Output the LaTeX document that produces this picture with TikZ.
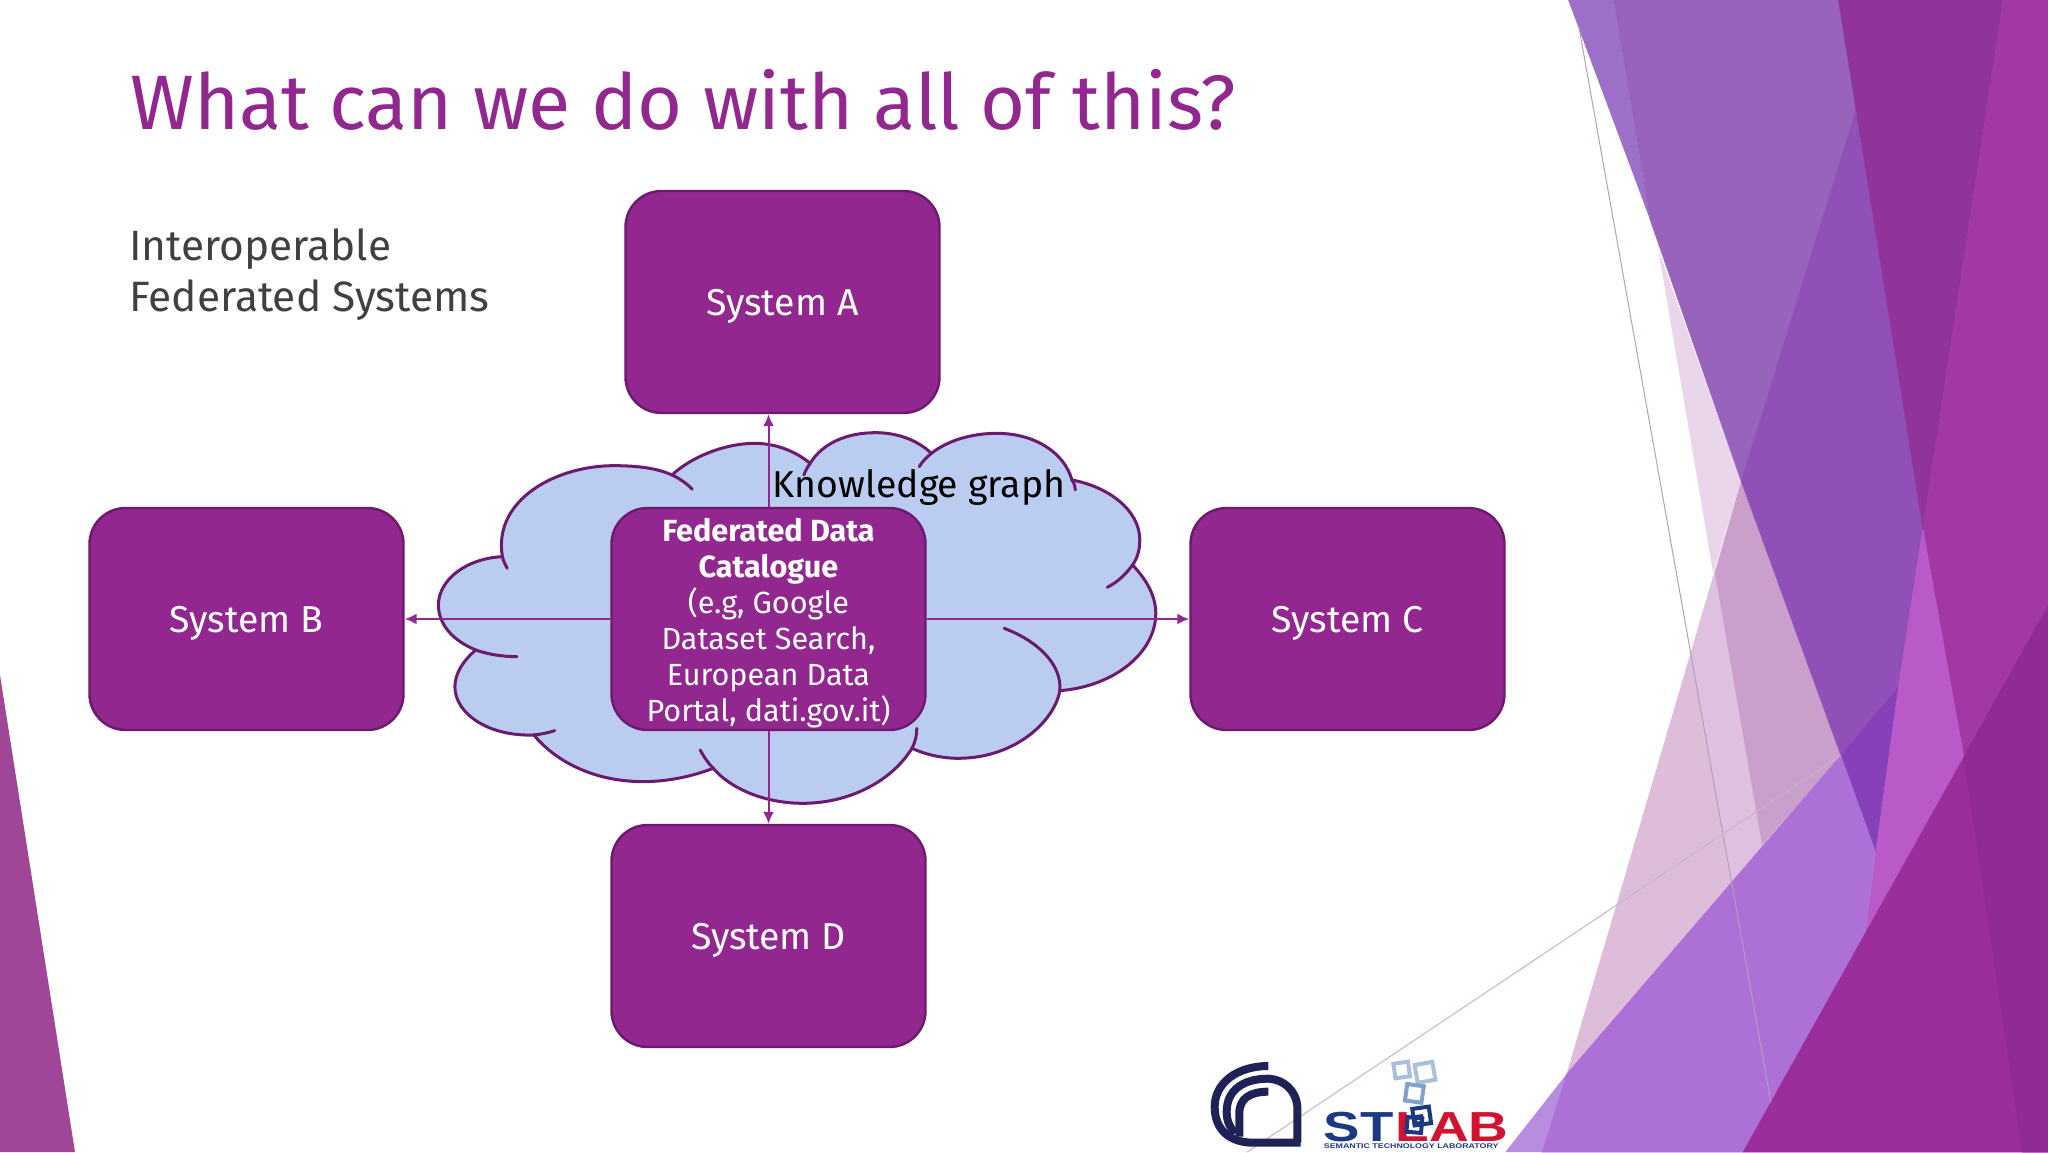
\documentclass[tikz,border=0pt]{standalone}
\usepackage{fontspec}
\setmainfont{Fira Sans}
\usetikzlibrary{arrows.meta}
\newfontfamily\logofont{Liberation Sans}
\definecolor{boxfill}{HTML}{92278F}
\definecolor{boxedge}{HTML}{6B1A6E}
\definecolor{cloudfill}{HTML}{BACDF0}
\newcommand{\hexc}[1]{\definecolor{c#1}{HTML}{#1}}
\hexc{A04699}\hexc{EAD6EA}\hexc{DDBDDA}\hexc{E0C0E0}\hexc{CB9FCC}\hexc{9C6FC8}\hexc{9863BD}\hexc{9050B8}\hexc{8640B8}\hexc{90339A}\hexc{A238A6}\hexc{BA5AC8}\hexc{B88CE0}\hexc{AC70D6}\hexc{9A2E9C}\hexc{902A94}\hexc{B0A0B8}\hexc{C8B4C8}\hexc{1F2257}\hexc{A9C0DC}\hexc{7FA2CC}\hexc{1B3A83}\hexc{D2122E}
\tikzset{
  sysbox/.style={draw=boxedge,line width=1.2pt,fill=boxfill,rounded corners=18pt,minimum width=157pt,minimum height=111pt,inner sep=0pt},
  systext/.style={text=white,align=center,inner sep=0pt,font=\fontsize{18.7}{22}\selectfont},
  cattext/.style={text=white,align=center,inner sep=0pt,font=\fontsize{15.3}{18}\selectfont},
  link/.style={draw=boxfill,line width=1pt,-{Latex[length=6pt,width=5.5pt]}},
  cloudline/.style={draw=boxedge,line width=1.5pt,line cap=round},
  thingray/.style={draw=#1,line width=.5pt},
  logoline/.style={draw=#1,line width=2pt},
  cnrline/.style={draw=c1F2257,line width=4pt},
  facet/.style={fill=#1,draw=#1,line width=.2pt},
}
\begin{document}
\begin{tikzpicture}[x=0.5pt,y=-0.5pt]
\useasboundingbox (0,0) rectangle (2048,1152);
\fill[white] (0,0) rectangle (2048,1152);
% left triangle
\fill[cA04699] (0,675) -- (75,1152) -- (0,1152) -- cycle;
% right facets
\begin{scope}[shift={(1500,0)},xscale=0.3495,yscale=0.7348]
\fill[cEAD6EA] (453,340) -- (690,655) -- (610,780) -- cycle;
\fill[cDDBDDA] (190,1462) -- (690,655) -- (975,1028) -- cycle;
\fill[cE0C0E0] (545,890) -- (615,780) -- (750,1150) -- (660,1200) -- cycle;
\fill[cCB9FCC] (615,780) -- (690,655) -- (975,1028) -- (750,1150) -- cycle;
\fill[c9C6FC8] (195,0) -- (325,0) -- (430,300) -- cycle;
\path[facet=c9863BD] (325,0) -- (968,0) -- (1018,150) -- (690,655) -- (430,300) -- cycle;
\path[facet=c9050B8] (1018,150) -- (1210,720) -- (1140,935) -- (975,1028) -- (690,655) -- cycle;
\path[facet=c8640B8] (975,1028) -- (1140,935) -- (1075,1160) -- cycle;
\path[facet=c90339A] (968,0) -- (1440,0) -- (1210,720) -- cycle;
\path[facet=cA238A6] (1440,0) -- (1568,0) -- (1568,825) -- (1327,1030) -- (1210,720) -- cycle;
\path[facet=cBA5AC8] (1210,720) -- (1327,1030) -- (1045,1270) -- (1075,1160) -- (1140,935) -- cycle;
\fill[cB88CE0] (15,1568) -- (190,1462) -- (120,1568) -- cycle;
\path[facet=cAC70D6] (190,1462) -- (975,1028) -- (1075,1160) -- (1045,1270) -- (695,1568) -- (120,1568) -- cycle;
\path[facet=c9A2E9C] (1568,825) -- (1568,1568) -- (695,1568) -- cycle;
\path[facet=c902A94] (1327,1030) -- (1568,825) -- (1568,1568) -- (1495,1568) -- cycle;
\draw[thingray=cB0A0B8] (225,35) -- (775,1500);
\coordinate (lineend) at (975,1028);
\end{scope}
\coordinate (linestart) at (1247,1152);
\draw[thingray=cC8B4C8] (linestart) -- (lineend);
% title and subtitle
\node[anchor=base west,inner sep=0pt,text=boxfill,font=\fontsize{38.6}{42}\selectfont] (title) at (130,129) {What can we do with all of this?};
\node[anchor=north west,inner sep=0pt,text=black!75,align=left,font=\fontsize{21.2}{25.5}\selectfont] (sub) at (129,228.5) {Interoperable\\Federated Systems};
% cloud
\begin{scope}[shift={(420,400)},xscale=0.4847,yscale=0.3333]
\path[cloudline,fill=cloudfill] (170,470) .. controls (150,300) and (280,197) .. (400,197) .. controls (450,197) and (490,205) .. (520,225)
.. controls (560,170) and (630,130) .. (690,130) .. controls (740,130) and (780,160) .. (805,190)
.. controls (830,130) and (880,98) .. (940,98) .. controls (990,98) and (1030,125) .. (1055,160)
.. controls (1090,120) and (1140,100) .. (1190,100) .. controls (1270,100) and (1330,160) .. (1345,240)
.. controls (1420,260) and (1485,330) .. (1485,420) .. controls (1485,450) and (1480,475) .. (1470,495)
.. controls (1500,540) and (1518,590) .. (1518,640) .. controls (1518,760) and (1430,860) .. (1320,872)
.. controls (1310,960) and (1230,1075) .. (1110,1075) .. controls (1075,1075) and (1040,1062) .. (1015,1045)
.. controls (970,1150) and (880,1210) .. (790,1210) .. controls (710,1210) and (640,1165) .. (605,1105)
.. controls (560,1130) and (510,1145) .. (460,1145) .. controls (360,1145) and (280,1085) .. (235,1005)
.. controls (140,1010) and (72,940) .. (72,860) .. controls (72,820) and (90,780) .. (115,750)
.. controls (65,720) and (38,670) .. (38,615) .. controls (38,540) and (95,475) .. (170,470) -- cycle;
\draw[cloudline] (520,225) .. controls (535,235) and (550,250) .. (562,268);
\draw[cloudline] (805,190) .. controls (800,200) and (795,212) .. (792,225);
\draw[cloudline] (1055,160) .. controls (1045,172) and (1036,185) .. (1030,200);
\draw[cloudline] (1345,240) .. controls (1350,250) and (1352,260) .. (1352,270);
\draw[cloudline] (1470,495) .. controls (1455,525) and (1440,545) .. (1418,562);
\draw[cloudline] (1205,685) .. controls (1270,720) and (1325,790) .. (1320,872);
\draw[cloudline] (1015,1045) .. controls (1022,1025) and (1025,1005) .. (1025,985);
\draw[cloudline] (605,1105) .. controls (595,1090) and (585,1070) .. (578,1050);
\draw[cloudline] (235,1005) .. controls (250,1003) and (265,998) .. (278,992);
\draw[cloudline] (115,750) .. controls (140,763) and (170,770) .. (200,770);
\draw[cloudline] (170,470) .. controls (172,482) and (176,495) .. (180,505);
\end{scope}
% boxes
\node[sysbox] (a) at (782.5,302) {};
\node[sysbox] (b) at (246.5,619) {};
\node[sysbox] (c) at (1347.5,619) {};
\node[sysbox] (d) at (768.5,936) {};
\node[sysbox] (cat) at (768.5,619) {};
\node[systext] (atext) at ([yshift=-2.3pt]a.center) {System A};
\node[systext] (btext) at ([yshift=-2.3pt]b.center) {System B};
\node[systext] (ctext) at ([yshift=-2.3pt]c.center) {System C};
\node[systext] (dtext) at ([yshift=-2.3pt]d.center) {System D};
\node[cattext] (cattxt) at ([yshift=-2.3pt]cat.center) {\textbf{Federated Data}\\\textbf{Catalogue}\\(e.g, Google\\Dataset Search,\\European Data\\Portal, dati.gov.it)};
\node[inner sep=0pt,text=black,font=\fontsize{18.7}{22}\selectfont] (kg) at (919,487.5) {Knowledge graph};
% connectors
\draw[link] (cat.north) -- (cat.north |- a.south);
\draw[link] (cat.south) -- (d.north);
\draw[link] (cat.west) -- (b.east);
\draw[link] (cat.east) -- (c.west);
% logos
\begin{scope}[shift={(1180,1040)},scale=1/3]
\draw[cnrline] (265,78) .. controls (170,78) and (104,130) .. (104,200) .. controls (104,270) and (150,308) .. (220,308) -- (362,308);
\draw[cnrline] (352,308) -- (352,200) .. controls (348,150) and (310,118) .. (265,116) .. controls (190,116) and (140,150) .. (140,215) .. controls (140,245) and (150,262) .. (165,280);
\draw[cnrline] (265,155) .. controls (210,155) and (178,175) .. (178,220) -- (178,290);
\draw[logoline=cA9C0DC,shift={(665,90)},rotate=8] (-22,-22) rectangle (22,22);
\draw[logoline=cA9C0DC,shift={(735,97)},rotate=10] (-27,-27) rectangle (27,27);
\draw[logoline=c7FA2CC,shift={(703,160)},rotate=-8] (-25,-25) rectangle (25,25);
\node[anchor=base west,inner sep=0pt,xscale=1.3,text=c1B3A83,font=\logofont\bfseries\fontsize{21}{22}\selectfont] (st) at (430,305) {ST};
\node[anchor=base west,inner sep=0pt,xscale=1.31,text=cD2122E,font=\logofont\bfseries\fontsize{21}{22}\selectfont] (lab) at (645,305) {LAB};
\draw[logoline=c1B3A83,shift={(725,228)},rotate=8] (-25,-25) rectangle (25,25);
\draw[logoline=c1B3A83,shift={(703,255)},rotate=-5] (-22,-22) rectangle (22,22);
\draw[logoline=c1B3A83,shift={(715,240)},rotate=8] (-10,-10) rectangle (10,10);
\node[anchor=base west,inner sep=0pt,xscale=1.3,text=c1B3A83,font=\logofont\bfseries\fontsize{3.4}{4}\selectfont] (cap) at (430,326) {SEMANTIC TECHNOLOGY LABORATORY};
\end{scope}
\end{tikzpicture}
\end{document}
